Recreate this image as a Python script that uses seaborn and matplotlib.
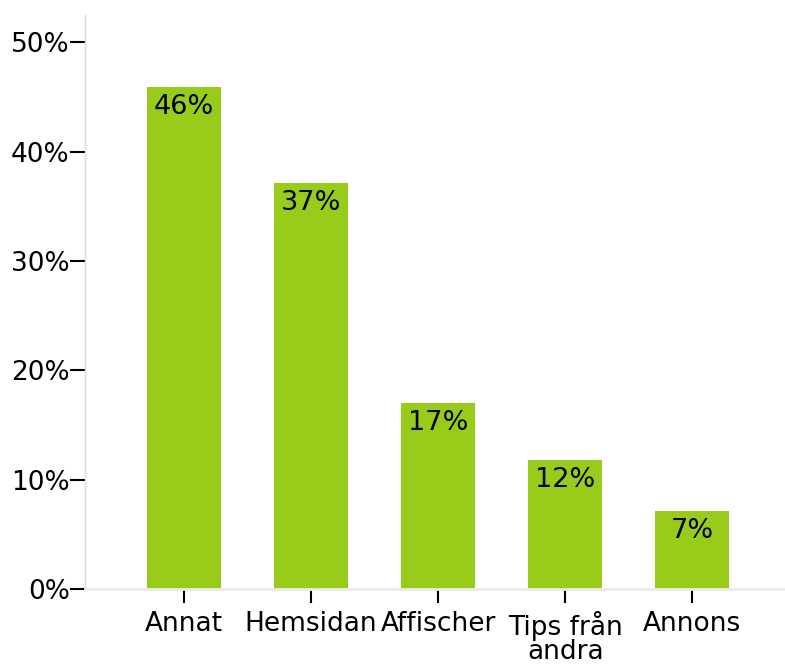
import matplotlib
matplotlib.use('Agg')
import matplotlib.pyplot as plt
import pandas as pd
import seaborn as sns
from matplotlib.ticker import FuncFormatter

categories = ['Annat', 'Hemsidan', 'Affischer', 'Tips från\nandra', 'Annons']
values = [45.9, 37.1, 17.0, 11.8, 7.1]
yticks = [0, 10, 20, 30, 40, 50]

sns.set_style('white')
plt.rcParams['font.family'] = ['DejaVu Sans']

data = pd.DataFrame({'kanal': categories, 'andel': values})

fig = plt.figure(figsize=(7.85, 6.66), dpi=100)
ax = fig.add_axes([85 / 785, 77 / 666, 700 / 785, 574 / 666])
sns.barplot(data=data, x='kanal', y='andel', color='#99cc1a', saturation=1,
            width=0.58, linewidth=0, edgecolor='none', ax=ax)

for i, v in enumerate(values):
    ax.annotate('{:.0f}%'.format(v), (i, v), xytext=(0, -5), textcoords='offset points',
                ha='center', va='top', fontsize=19.5, color='black')

ax.set_xlim(-0.78, 4.73)
ax.set_ylim(0, 52.5)
ax.set_yticks(yticks)
ax.yaxis.set_major_formatter(FuncFormatter(lambda y, _: '{:.0f}%'.format(y)))
ax.set_xlabel('')
ax.set_ylabel('')

sns.despine(ax=ax)
ax.spines['left'].set_color('#d9d9d9')
ax.spines['left'].set_linewidth(1)
ax.spines['bottom'].set_color('#ebebeb')
ax.spines['bottom'].set_linewidth(2)

ax.tick_params(axis='y', which='major', left=True, length=11, width=1.5, color='black',
               direction='out', pad=0, labelsize=19, labelcolor='black')
ax.tick_params(axis='x', which='major', bottom=True, length=10, width=1.5, color='black',
               direction='out', pad=6, labelsize=19, labelcolor='black')
for lbl in ax.get_xticklabels():
    lbl.set_linespacing(0.88)

fig.savefig('out.png', dpi=100)
